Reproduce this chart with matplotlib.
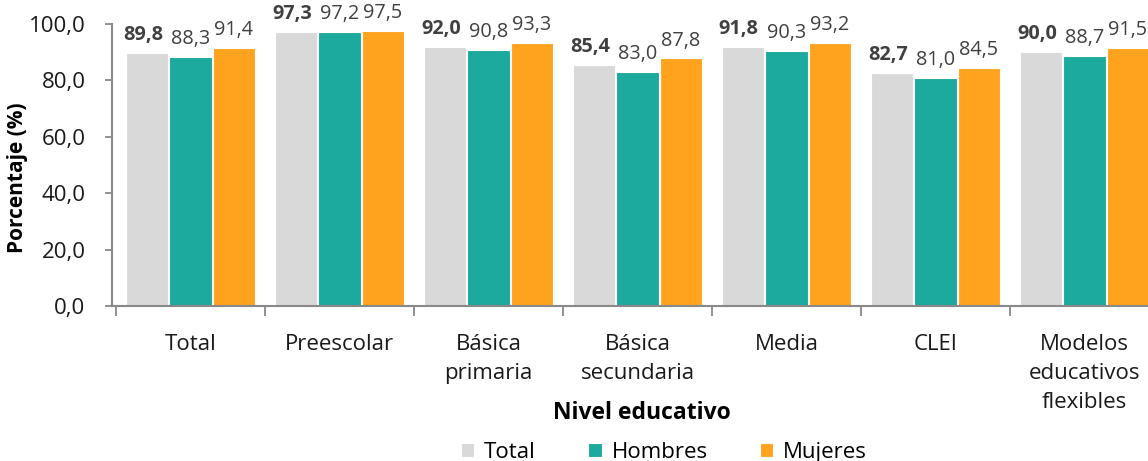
import matplotlib
matplotlib.use("Agg")
import matplotlib.pyplot as plt
import numpy as np
from matplotlib.ticker import FixedLocator, FuncFormatter

plt.rcParams['font.family'] = ['Open Sans', 'DejaVu Sans']

# datos
niveles = ["Total", "Preescolar", "Básica\nprimaria", "Básica\nsecundaria",
           "Media", "CLEI", "Modelos\neducativos\nflexibles"]
total = [89.8, 97.3, 92.0, 85.4, 91.8, 82.7, 90.0]
hombres = [88.3, 97.2, 90.8, 83.0, 90.3, 81.0, 88.7]
mujeres = [91.4, 97.5, 93.3, 87.8, 93.2, 84.5, 91.5]
series = ["Total", "Hombres", "Mujeres"]

colores = ["#D9D9D9", "#1CA99E", "#FFA31F"]

W, H = 1148, 461
fig = plt.figure(figsize=(W / 100, H / 100), dpi=100)
ax = fig.add_axes([112 / W, 155 / H, 1047 / W, 282 / H])

x = np.arange(len(niveles))
ancho = 0.283
desp = [-0.29, 0.0, 0.29]
valores = [total, hombres, mujeres]

for i, (vals, col, nom) in enumerate(zip(valores, colores, series)):
    bars = ax.bar(x + desp[i], vals, ancho, color=col, edgecolor="white",
                  linewidth=0.8, label=nom, zorder=2)
    for b, v in zip(bars, vals):
        # la etiqueta del total va un poco a la izquierda, como en el original
        dx = -0.03 if i == 0 else 0.0
        ax.text(b.get_x() + b.get_width() / 2 + dx, v + 2.8,
                f"{v:.1f}".replace(".", ","), ha="center", va="bottom",
                fontsize=14.3, color="#404040", clip_on=False,
                fontweight="bold" if i == 0 else "normal")

ax.set_xlim(-0.5 - 4 / 149, len(niveles) - 0.5)
ax.set_ylim(0, 100)
ax.set_yticks(np.arange(0, 101, 20))
ax.yaxis.set_major_formatter(FuncFormatter(lambda v, p: f"{v:.1f}".replace(".", ",")))

ax.set_xticks(x)
ax.set_xticklabels(niveles, fontsize=16, va="top", linespacing=1.5,
                   color="#1a1a1a")
ax.xaxis.set_minor_locator(FixedLocator(np.arange(-0.5, len(niveles), 1.0)))
ax.tick_params(axis="x", which="major", length=0, pad=20)
ax.tick_params(axis="x", which="minor", length=7, width=1.3, color="#898989")
ax.tick_params(axis="y", length=5, width=1.3, color="#898989", labelsize=16,
               pad=14, labelcolor="#1a1a1a")

for s in ["top", "right"]:
    ax.spines[s].set_visible(False)
for s in ["left", "bottom"]:
    ax.spines[s].set_color("#898989")
    ax.spines[s].set_linewidth(1.5)

fig.text(18 / W, 1 - 178 / H, "Porcentaje (%)", rotation=90, ha="center",
         va="center", fontsize=15, fontweight="bold")
fig.text(642 / W, 1 - 413 / H, "Nivel educativo", ha="center", va="center",
         fontsize=16.5, fontweight="bold")

fig.legend(loc="center", bbox_to_anchor=(664 / W, 1 - 452 / H), ncol=3,
           frameon=False, fontsize=16, handlelength=0.6, handleheight=0.6,
           columnspacing=2.35, handletextpad=0.45)

fig.savefig("out.png", dpi=100)
